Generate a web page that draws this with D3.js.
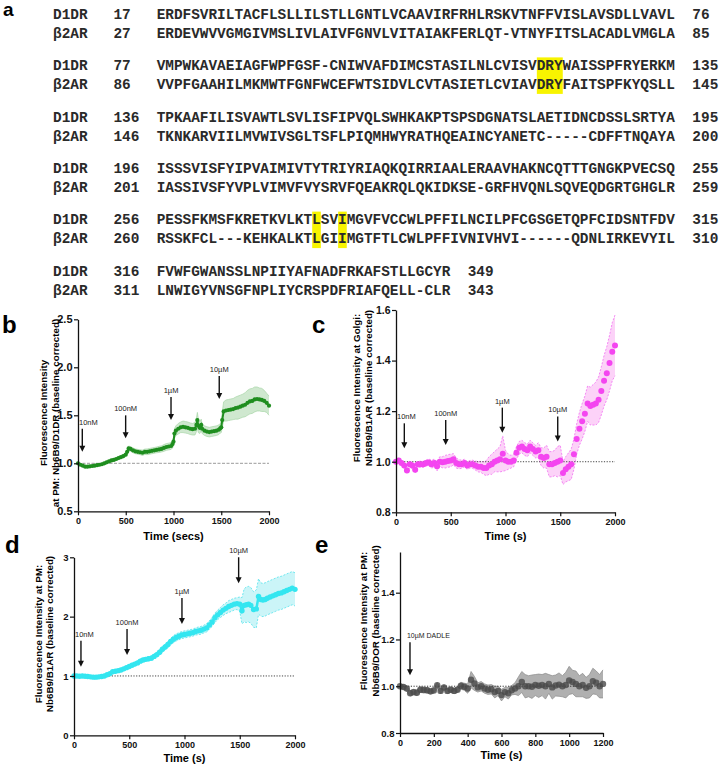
<!DOCTYPE html>
<html>
<head>
<meta charset="utf-8">
<script src="https://cdn.jsdelivr.net/npm/d3@7"></script>
<style>
  body { margin: 0; background: #fff; }
  svg { display: block; font-family: "Liberation Sans", Arial, sans-serif; }
</style>
</head>
<body>
<div id="fig"></div>
<script>
// ---- panel a: sequence alignment ----
const d1drStart = [17, 77, 136, 196, 256, 316];
const d1drSeq = [
  "ERDFSVRILTACFLSLLILSTLLGNTLVCAAVIRFRHLRSKVTNFFVISLAVSDLLVAVL",
  "VMPWKAVAEIAGFWPFGSF-CNIWVAFDIMCSTASILNLCVISVDRYWAISSPFRYERKM",
  "TPKAAFILISVAWTLSVLISFIPVQLSWHKAKPTSPSDGNATSLAETIDNCDSSLSRTYA",
  "ISSSVISFYIPVAIMIVTYTRIYRIAQKQIRRIAALERAAVHAKNCQTTTGNGKPVECSQ",
  "PESSFKMSFKRETKVLKTLSVIMGVFVCCWLPFFILNCILPFCGSGETQPFCIDSNTFDV",
  "FVWFGWANSSLNPIIYAFNADFRKAFSTLLGCYR"
];
const d1drEnd = [76, 135, 195, 255, 315, 349];
const b2arStart = [27, 86, 146, 201, 260, 311];
const b2arSeq = [
  "ERDEVWVVGMGIVMSLIVLAIVFGNVLVITAIAKFERLQT-VTNYFITSLACADLVMGLA",
  "VVPFGAAHILMKMWTFGNFWCEFWTSIDVLCVTASIETLCVIAVDRYFAITSPFKYQSLL",
  "TKNKARVIILMVWIVSGLTSFLPIQMHWYRATHQEAINCYANETC-----CDFFTNQAYA",
  "IASSIVSFYVPLVIMVFVYSRVFQEAKRQLQKIDKSE-GRFHVQNLSQVEQDGRTGHGLR",
  "RSSKFCL---KEHKALKTLGIIMGTFTLCWLPFFIVNIVHVI------QDNLIRKEVYIL",
  "LNWIGYVNSGFNPLIYCRSPDFRIAFQELL-CLR"
];
const b2arEnd = [85, 145, 200, 259, 310, 343];
// highlighted residues: block index, column, length
const hlBlock = [1, 4, 4];
const hlCol = [44, 18, 21];
const hlLen = [3, 1, 1];

// ---- panel b ----
const bTime = [0,25,50,75,100,125,150,175,200,225,250,275,300,325,350,375,400,425,450,475,500,515,530,550,575,600,625,650,675,700,725,750,775,800,825,850,875,900,925,950,975,990,1000,1010,1025,1050,1075,1100,1125,1150,1175,1200,1225,1240,1250,1260,1275,1290,1300,1325,1350,1375,1400,1425,1450,1475,1490,1500,1510,1525,1550,1575,1600,1625,1650,1675,1700,1725,1750,1775,1800,1825,1850,1875,1900,1925,1950,1975,2000];
const bMean = [1.00,0.985,0.975,0.965,0.965,0.968,0.972,0.975,0.98,0.985,0.99,1.0,1.01,1.02,1.03,1.035,1.045,1.055,1.065,1.075,1.09,
  1.12,1.155,
  1.15,1.135,1.125,1.12,1.115,1.11,1.12,1.12,1.125,1.13,1.135,1.14,1.145,1.15,1.16,1.17,1.175,1.18,
  1.20,1.225,1.31,
  1.34,1.36,1.375,1.38,1.375,1.37,1.36,1.355,1.36,
  1.40,1.45,1.39,1.37,1.40,1.36,
  1.34,1.33,1.325,1.33,1.335,1.34,1.35,
  1.365,1.375,1.45,
  1.54,1.55,1.555,1.56,1.565,1.575,1.58,1.59,1.60,1.61,1.63,1.645,1.65,1.665,1.67,1.665,1.66,1.65,1.63,1.60];
const bSem = [0.004,0.008,0.01,0.01,0.01,0.01,0.01,0.012,0.012,0.012,0.012,0.014,0.014,0.015,0.015,0.016,0.016,0.018,0.018,0.02,0.02,
  0.022,0.025,
  0.025,0.025,0.025,0.025,0.025,0.028,0.028,0.03,0.03,0.03,0.03,0.03,0.032,0.032,0.035,0.035,0.035,0.035,
  0.04,0.045,0.05,
  0.05,0.055,0.055,0.06,0.06,0.06,0.06,0.06,0.065,
  0.07,0.08,0.07,0.06,0.06,0.05,
  0.05,0.05,0.05,0.05,0.05,0.05,0.05,
  0.05,0.055,0.08,
  0.1,0.11,0.11,0.11,0.11,0.115,0.12,0.12,0.12,0.125,0.13,0.13,0.13,0.13,0.125,0.12,0.12,0.11,0.1,0.1];
const bDose = ["10nM", "100nM", "1\u00b5M", "10\u00b5M"];
const bDoseTime = [45, 499, 974, 1479];
const bDoseTip = [1.12, 1.26, 1.45, 1.67];

// ---- panel c ----
const cTime = [0,25,50,75,100,125,150,175,200,225,250,275,300,325,350,375,400,425,450,475,500,525,550,575,600,625,650,675,700,725,750,775,800,825,850,875,900,925,950,975,1000,1025,1050,1075,1100,1125,1150,1175,1200,1225,1250,1275,1300,1325,1350,1375,1400,1425,1450,1475,1500,1525,1550,1575,1600,1625,1650,1675,1700,1725,1750,1775,1800,1825,1850,1875,1900,1925,1950,1975,2000];
const cMean = [1.0,1.005,0.995,0.985,0.965,0.99,0.985,0.968,0.99,0.99,
  0.99,0.995,0.997,0.99,0.995,0.982,1.0,0.998,1.0,1.003,
  1.005,1.01,0.995,0.99,0.99,0.995,0.985,0.99,0.99,0.985,
  0.98,0.98,0.975,0.975,0.985,0.99,1.0,1.005,1.01,1.032,
  1.005,1.0,1.0,1.005,1.035,1.055,1.06,1.05,1.045,1.06,
  1.05,1.04,1.045,1.02,1.015,1.02,0.99,0.99,0.995,1.0,
  1.005,0.955,0.97,0.98,0.99,1.03,1.09,1.13,1.16,1.19,
  1.23,1.22,1.225,1.23,1.245,1.28,1.32,1.35,1.39,1.435,
  1.46];
const cSem = [0.005,0.008,0.01,0.012,0.012,0.012,0.012,0.012,0.012,0.012,
  0.012,0.012,0.014,0.015,0.016,0.018,0.02,0.022,0.025,0.025,
  0.025,0.022,0.02,0.018,0.016,0.015,0.015,0.015,0.016,0.018,
  0.02,0.022,0.025,0.03,0.035,0.04,0.04,0.045,0.05,0.07,
  0.04,0.03,0.025,0.025,0.025,0.025,0.025,0.025,0.025,0.025,
  0.025,0.025,0.03,0.035,0.04,0.045,0.05,0.05,0.05,0.06,
  0.06,0.045,0.05,0.055,0.06,0.06,0.06,0.065,0.07,0.07,
  0.07,0.075,0.08,0.085,0.09,0.095,0.1,0.105,0.11,0.115,
  0.12];
const cDose = ["10nM", "100nM", "1\u00b5M", "10\u00b5M"];
const cDoseTime = [76, 454, 971, 1477];
const cDoseTip = [1.053, 1.066, 1.115, 1.08];

// ---- panel d ----
const dTime = [0,25,50,75,100,125,150,175,200,225,250,275,300,325,350,375,400,425,450,475,500,525,550,575,600,625,650,675,700,725,750,775,800,825,850,875,900,925,950,975,1000,1025,1050,1075,1100,1125,1150,1175,1200,1225,1250,1275,1300,1325,1350,1375,1400,1425,1450,1475,1500,1520,1540,1560,1580,1600,1625,1650,1670,1690,1710,1730,1750,1775,1800,1825,1850,1875,1900,1925,1950,1975,2000];
const dMean = [1.0,1.0,0.995,1.0,0.995,0.99,0.985,0.98,0.98,0.985,
  0.99,1.0,1.02,1.04,1.07,1.08,1.09,1.10,1.12,1.14,
  1.16,1.18,1.20,1.22,1.25,1.27,1.28,1.29,1.30,1.33,
  1.36,1.40,1.45,1.49,1.53,1.58,1.62,1.65,1.67,1.69,
  1.70,1.71,1.72,1.73,1.75,1.76,1.77,1.79,1.81,1.86,
  1.91,1.98,2.03,2.07,2.11,2.14,2.17,2.19,2.21,2.22,
  2.21,
  2.10,2.19,2.20,2.21,2.19,
  2.12,2.13,
  2.34,2.29,2.28,2.29,2.31,
  2.33,2.35,2.37,2.39,2.40,2.42,2.44,2.46,2.48,2.46];
const dSem = [0.01,0.015,0.015,0.015,0.015,0.015,0.015,0.015,0.015,0.015,
  0.02,0.02,0.02,0.025,0.025,0.025,0.025,0.03,0.03,0.03,
  0.03,0.03,0.03,0.035,0.035,0.035,0.035,0.035,0.04,0.04,
  0.045,0.05,0.05,0.05,0.055,0.055,0.06,0.06,0.06,0.06,
  0.06,0.06,0.06,0.06,0.06,0.065,0.065,0.065,0.07,0.07,
  0.075,0.08,0.08,0.085,0.09,0.09,0.1,0.1,0.1,0.1,
  0.12,
  0.22,0.28,0.3,0.3,0.3,
  0.3,0.32,
  0.3,0.28,0.28,0.28,0.28,
  0.28,0.28,0.28,0.28,0.28,0.28,0.28,0.28,0.28,0.28];
const dDose = ["10nM", "100nM", "1\u00b5M", "10\u00b5M"];
const dDoseTime = [63, 480, 977, 1490];
const dDoseTip = [1.157, 1.354, 1.877, 2.563];

// ---- panel e ----
const eTime = [0,20,40,60,80,100,120,140,160,180,200,220,240,260,280,300,320,340,360,380,400,420,440,460,480,500,520,540,560,580,600,620,640,660,680,700,720,740,760,780,800,820,840,860,880,900,920,940,960,980,1000,1020,1040,1060,1080,1100,1120,1140,1160,1180,1200];
const eMean = [1.0,0.997,0.99,0.97,0.975,0.972,0.985,0.984,0.983,0.978,
  0.982,1.004,0.98,0.995,0.98,0.985,0.98,0.985,1.002,0.998,
  0.99,1.028,1.012,0.995,1.0,0.99,0.985,0.987,0.975,0.98,
  0.962,0.975,0.97,0.983,0.99,1.0,1.018,1.0,1.0,0.998,
  1.005,1.002,1.005,1.0,1.01,0.995,1.003,1.007,1.0,1.005,
  1.025,1.018,1.01,1.0,1.005,0.993,1.0,1.022,1.015,1.0,
  1.01];
const eSem = [0.008,0.01,0.012,0.012,0.012,0.012,0.012,0.012,0.012,0.012,
  0.012,0.012,0.012,0.012,0.012,0.012,0.012,0.012,0.015,0.015,
  0.02,0.035,0.03,0.02,0.02,0.02,0.02,0.02,0.025,0.02,
  0.025,0.02,0.025,0.02,0.025,0.04,0.045,0.05,0.045,0.05,
  0.045,0.05,0.045,0.055,0.04,0.05,0.045,0.05,0.045,0.055,
  0.06,0.05,0.055,0.045,0.05,0.045,0.05,0.055,0.05,0.05,
  0.06];
const eDose = ["10\u00b5M DADLE"];
const eDoseTime = [59];
const eDoseTip = [1.047];

const W = 719, H = 771;
const sans = "'Liberation Sans', Arial, sans-serif";
const svg = d3.select("#fig").append("svg")
  .attr("width", W)
  .attr("height", H)
  .attr("viewBox", `0 0 ${W} ${H}`);

// panel letters
const letters = [["a", 3, 16, 19], ["b", 2, 333, 24], ["c", 312, 333, 24], ["d", 5, 553, 24], ["e", 315, 553, 24]];
svg.selectAll("text.letter")
  .data(letters)
  .enter()
  .append("text")
  .attr("class", "letter")
  .attr("x", d => d[1])
  .attr("y", d => d[2])
  .attr("font-size", d => d[3])
  .attr("font-weight", "bold")
  .text(d => d[0]);

// ---- alignment ----
const cw = 8.64;          // monospace advance at 14.4px
const alignX = 53;
const rowY = i => 14 + i * 51.4;
const mono = "'Liberation Mono', 'Courier New', monospace";
const align = svg.append("g").attr("id", "alignment");

// highlights first, text on top
hlBlock.forEach((b, i) => {
  const xs = alignX + (12 + hlCol[i]) * cw;
  align.append("rect")
    .attr("x", xs)
    .attr("y", rowY(b) - 8)
    .attr("width", hlLen[i] * cw)
    .attr("height", 19 + 17.5)
    .attr("fill", "#f8f400");
});

function alignRow(label, start, seq, end, y) {
  const row = align.append("g")
    .style("font-family", mono)
    .attr("font-size", 14.4)
    .attr("font-weight", "bold")
    .attr("fill", "#2a2a2a");
  row.append("text").attr("x", alignX).attr("y", y + 4.8).text(label);
  row.append("text").attr("x", alignX + 7 * cw).attr("y", y + 4.8).text(start);
  row.append("text").attr("x", alignX + 12 * cw).attr("y", y + 4.8).text(seq);
  row.append("text").attr("x", alignX + (12 + seq.length + 2) * cw).attr("y", y + 4.8).text(end);
}
d1drSeq.forEach((s, i) => {
  alignRow("D1DR", d1drStart[i], s, d1drEnd[i], rowY(i));
  alignRow("\u03b22AR", b2arStart[i], b2arSeq[i], b2arEnd[i], rowY(i) + 19);
});

// ---- time-course panels ----
function drawPanel(o) {
  const x = d3.scaleLinear().domain(o.xDomain).range(o.xRange);
  const y = d3.scaleLinear().domain(o.yDomain).range(o.yRange);
  const g = svg.append("g").attr("id", o.id);
  const pts = o.time.map((t, i) => ({ t: t, v: o.mean[i], e: o.sem[i] }));

  const area = d3.area()
    .x(d => x(d.t))
    .y0(d => y(d.v - d.e))
    .y1(d => y(d.v + d.e));
  g.append("path").datum(pts)
    .attr("d", area)
    .attr("fill", o.bandFill);

  [1, -1].forEach(s => {
    g.append("path").datum(pts)
      .attr("d", d3.line().x(d => x(d.t)).y(d => y(d.v + s * d.e)))
      .attr("fill", "none")
      .attr("stroke", o.bandStroke)
      .attr("stroke-width", 0.7)
      .attr("stroke-dasharray", o.bandDash);
  });

  // reference line at 1.0
  g.append("line")
    .attr("x1", x(o.xDomain[0]))
    .attr("x2", x(o.xDomain[1]))
    .attr("y1", y(1))
    .attr("y2", y(1))
    .attr("stroke", o.refColor)
    .attr("stroke-width", 1)
    .attr("stroke-dasharray", o.refDash);

  if (o.lineW > 0) {
    g.append("path").datum(pts)
      .attr("d", d3.line().x(d => x(d.t)).y(d => y(d.v)))
      .attr("fill", "none")
      .attr("stroke", o.color)
      .attr("stroke-width", o.lineW);
  }

  g.selectAll("circle")
    .data(pts)
    .enter()
    .append("circle")
    .attr("cx", d => x(d.t))
    .attr("cy", d => y(d.v))
    .attr("r", o.r)
    .attr("fill", o.color)
    .attr("fill-opacity", o.dotOpacity);

  // axes
  const yAxis = g.append("g")
    .attr("transform", `translate(${o.xRange[0]},0)`)
    .call(d3.axisLeft(y).tickValues(o.yTicks).tickFormat(d3.format(o.yFmt)).tickSize(4).tickSizeOuter(0).tickPadding(1.5));
  yAxis.selectAll("text").attr("font-size", o.yTickFont).attr("font-weight", "bold").attr("fill", "#111")
    .style("font-family", sans);
  const xAxis = g.append("g")
    .attr("transform", `translate(0,${o.yRange[0]})`)
    .call(d3.axisBottom(x).tickValues(o.xTicks).tickFormat(d3.format("d")).tickSize(4).tickSizeOuter(0).tickPadding(2.5));
  xAxis.selectAll("text").attr("font-size", 9).attr("font-weight", "bold").attr("fill", "#111")
    .style("font-family", sans);
  [yAxis, xAxis].forEach(a => {
    a.select(".domain").attr("stroke", "#111").attr("stroke-width", 1.3);
    a.selectAll(".tick line").attr("stroke", "#111").attr("stroke-width", 1.2);
  });

  // axis titles
  g.append("text")
    .attr("x", (o.xRange[0] + o.xRange[1]) / 2)
    .attr("y", o.xTitleY)
    .attr("text-anchor", "middle")
    .attr("font-size", 11)
    .attr("font-weight", "bold")
    .text(o.xTitle);
  o.yTitle.forEach((line, i) => {
    g.append("text")
      .attr("transform", `translate(${o.yTitleX[i]},${o.yTitleCY}) rotate(-90)`)
      .attr("text-anchor", "middle")
      .attr("font-size", 9.8)
      .attr("font-weight", "bold")
      .text(line);
  });

  // dose arrows
  o.dose.forEach((lab, i) => {
    const ax = x(o.doseTime[i]);
    const tip = y(o.doseTip[i]);
    const top = tip - o.arrowLen;
    g.append("line")
      .attr("x1", ax).attr("x2", ax)
      .attr("y1", top).attr("y2", tip - 5)
      .attr("stroke", "#111").attr("stroke-width", 1.4);
    g.append("path")
      .attr("d", `M${ax - 3},${tip - 6}L${ax + 3},${tip - 6}L${ax},${tip}Z`)
      .attr("fill", "#111");
    const t = g.append("text")
      .attr("y", top - 4)
      .attr("font-size", o.doseFont)
      .attr("fill", "#222")
      .text(lab);
    const w = t.node().getComputedTextLength();
    const lx = o.doseAnchor === "start" ? ax - 3 : Math.max(ax - w / 2, o.xRange[0] + 1);
    t.attr("x", lx);
  });
}

drawPanel({
  id: "panel-b", time: bTime, mean: bMean, sem: bSem,
  xDomain: [0, 2000], xRange: [78, 269], yDomain: [0.5, 2.5], yRange: [511.3, 319.3],
  xTicks: [0, 500, 1000, 1500, 2000], yTicks: [0.5, 1.0, 1.5, 2.0, 2.5], yFmt: ".1f", yTickFont: 11,
  color: "#1f8e1f", r: 2.1, lineW: 2, dotOpacity: 1,
  bandFill: "#cfe8cf", bandStroke: "#a8d6a8", bandDash: null,
  refColor: "#9a9a9a", refDash: "3,1.5",
  xTitle: "Time (secs)", xTitleY: 540,
  yTitle: ["Fluorescence Intensity", "at PM: Nb6B9/D1DR (baseline corrected)"], yTitleX: [47, 59], yTitleCY: 413,
  dose: bDose, doseTime: bDoseTime, doseTip: bDoseTip, arrowLen: 23, doseFont: 7.5
});

drawPanel({
  id: "panel-c", time: cTime, mean: cMean, sem: cSem,
  xDomain: [0, 2000], xRange: [396, 615], yDomain: [0.8, 1.6], yRange: [512.3, 310],
  xTicks: [0, 500, 1000, 1500, 2000], yTicks: [0.8, 1.0, 1.2, 1.4, 1.6], yFmt: ".1f", yTickFont: 10.5,
  color: "#f445f0", r: 3, lineW: 0, dotOpacity: 1,
  bandFill: "#fcd2f8", bandStroke: "#f05ef0", bandDash: "2,1.5",
  refColor: "#444", refDash: "1.2,1.5",
  xTitle: "Time (s)", xTitleY: 540,
  yTitle: ["Fluorescence Intensity at Golgi:", "Nb6B9/B1AR (baseline corrected)"], yTitleX: [360, 372], yTitleCY: 388,
  dose: cDose, doseTime: cDoseTime, doseTip: cDoseTip, arrowLen: 25, doseFont: 7.5
});

drawPanel({
  id: "panel-d", time: dTime, mean: dMean, sem: dSem,
  xDomain: [0, 2000], xRange: [74, 295], yDomain: [0, 3], yRange: [735.3, 557.3],
  xTicks: [0, 500, 1000, 1500, 2000], yTicks: [0, 1, 2, 3], yFmt: "d", yTickFont: 9.5,
  color: "#34e6f0", r: 2.7, lineW: 2.5, dotOpacity: 1,
  bandFill: "#cbf5f8", bandStroke: "#3ee0ea", bandDash: "2,1.5",
  refColor: "#444", refDash: "1.2,1.5",
  xTitle: "Time (s)", xTitleY: 762,
  yTitle: ["Fluorescence Intensity at PM:", "Nb6B9/B1AR (baseline corrected)"], yTitleX: [42, 53], yTitleCY: 634,
  dose: dDose, doseTime: dDoseTime, doseTip: dDoseTip, arrowLen: 26, doseFont: 7.5
});

drawPanel({
  id: "panel-e", time: eTime, mean: eMean, sem: eSem,
  xDomain: [0, 1200], xRange: [400, 603], yDomain: [0.8, 1.574], yRange: [733, 552],
  xTicks: [0, 200, 400, 600, 800, 1000, 1200], yTicks: [0.8, 1.0, 1.2, 1.4], yFmt: ".1f", yTickFont: 9.5,
  color: "#4a4a4a", r: 3.2, lineW: 0, dotOpacity: 0.8,
  bandFill: "#b0b0b0", bandStroke: "#8a8a8a", bandDash: null,
  refColor: "#333", refDash: "1.2,1.5",
  xTitle: "Time (s)", xTitleY: 759,
  yTitle: ["Fluorescence Intensity at PM:", "Nb6B9/DOR (baseline corrected)"], yTitleX: [367, 379], yTitleCY: 621,
  dose: eDose, doseTime: eDoseTime, doseTip: eDoseTip, arrowLen: 33, doseFont: 7, doseAnchor: "start"
});
</script>
</body>
</html>
